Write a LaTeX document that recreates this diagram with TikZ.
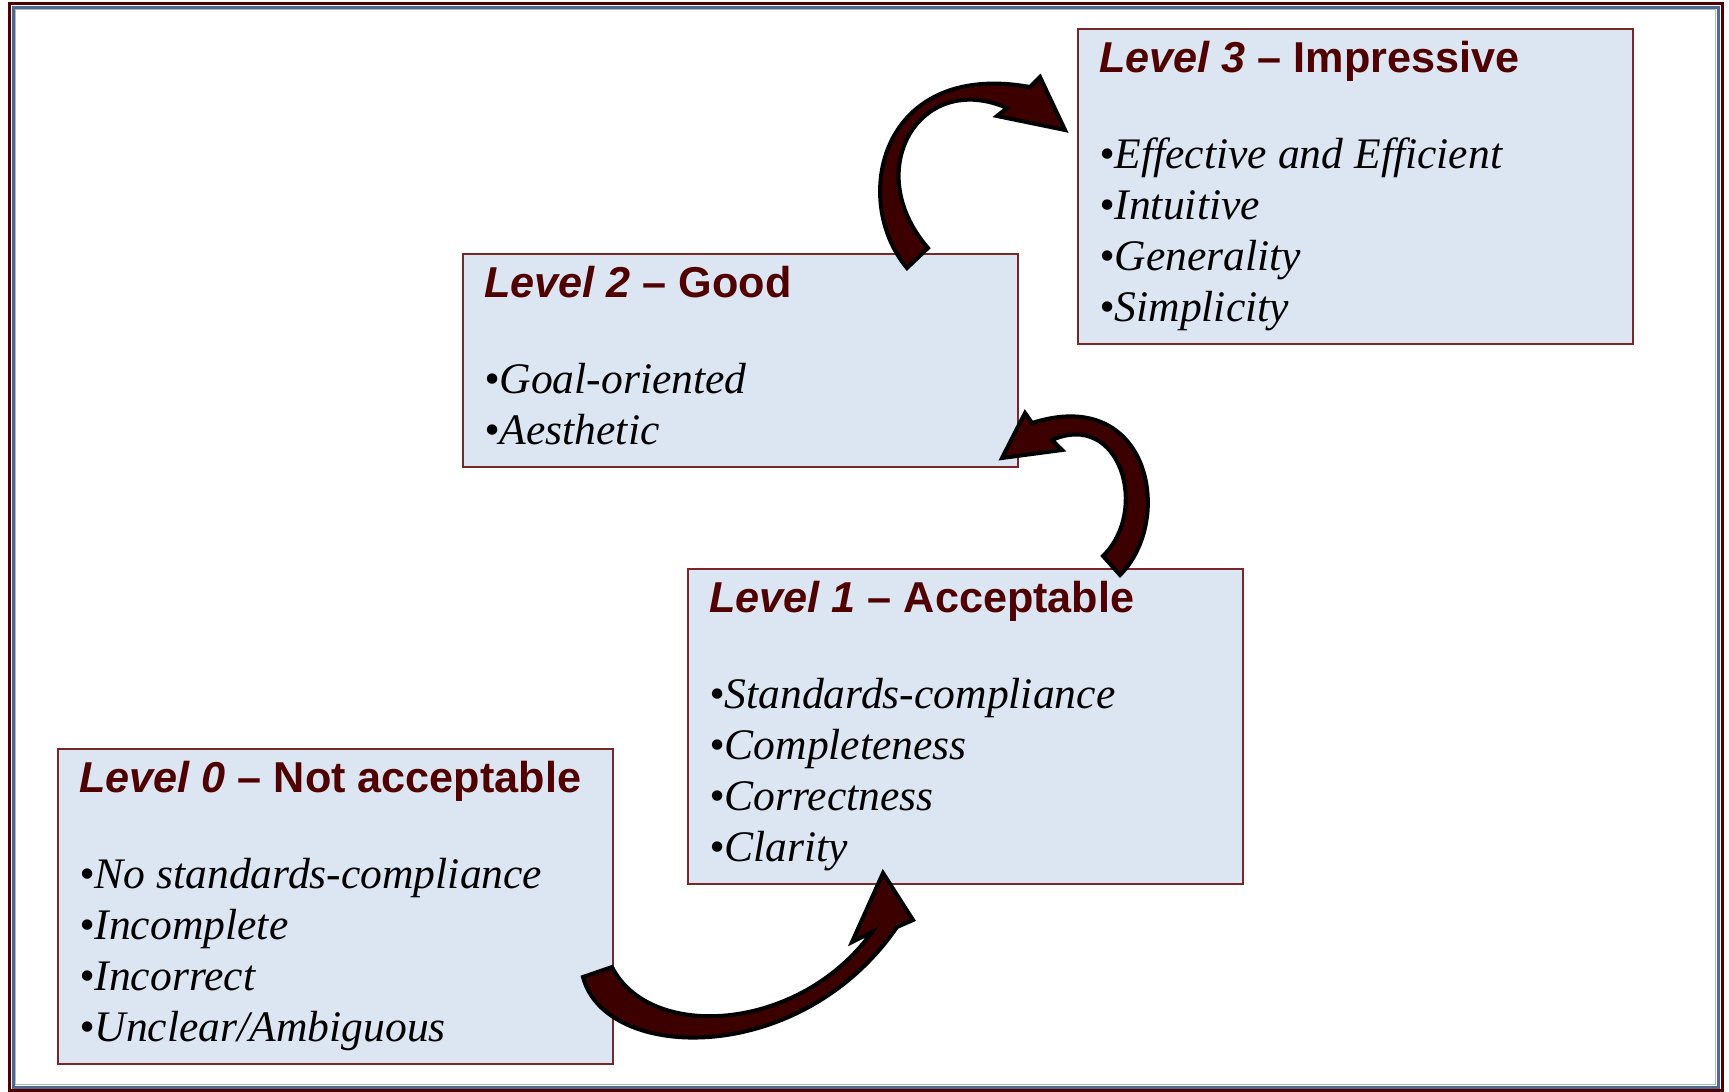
\documentclass[tikz,border=0pt]{standalone}
\usepackage{fontspec}
\setmainfont{Liberation Serif}
\newfontfamily\headfont{Liberation Sans}

\definecolor{boxfill}{RGB}{220,230,242}
\definecolor{boxline}{RGB}{120,40,40}
\definecolor{maroon}{RGB}{80,0,0}
\definecolor{arrowfill}{RGB}{60,0,0}
\definecolor{frameblue}{RGB}{80,105,145}
\definecolor{framelight}{RGB}{170,185,205}

\begin{document}
\begin{tikzpicture}[x=0.5pt,y=-0.5pt,
	levelbox/.style={draw=boxline, fill=boxfill, line width=0.75pt, minimum width=277.5pt, minimum height=157.5pt, anchor=north west, inner sep=0pt},
	heading/.style={anchor=base west, inner sep=0pt, text=maroon, font=\headfont\bfseries\fontsize{21.6}{25}\selectfont},
	items/.style={anchor=base west, inner sep=0pt, align=left, font=\itshape\fontsize{21.8}{25.5}\selectfont},
	bigarrow/.style={draw=black, line width=2pt, fill=arrowfill}]
	\useasboundingbox (0,0) rectangle (1729,1092);

	% page frame
	\draw[maroon, line width=1.5pt] (9,3) rectangle (1722,1090);
	\draw[frameblue, line width=1.5pt] (13,7) rectangle (1718,1087);
	\draw[framelight, line width=0.5pt] (15.5,9.5) rectangle (1715.5,1084.5);

	% levels (item nodes sit on the baseline of their last line)
	\node[levelbox] (l0) at (57,748) {};
	\node[heading] (h0) at (79,792) {{\itshape Level 0} – Not acceptable};
	\node[items] (b0) at (79,1041) {•No standards-compliance\\•Incomplete\\•Incorrect\\•Unclear/Ambiguous};

	\node[levelbox] (l1) at (687,568) {};
	\node[heading] (h1) at (709,612) {{\itshape Level 1} – Acceptable};
	\node[items] (b1) at (709,861) {•Standards-compliance\\•Completeness\\•Correctness\\•Clarity};

	\node[levelbox, minimum height=106.5pt] (l2) at (462,253) {};
	\node[heading] (h2) at (484,297) {{\itshape Level 2} – Good};
	\node[items] (b2) at (484,444) {•Goal-oriented\\•Aesthetic};

	\node[levelbox] (l3) at (1077,28) {};
	\node[heading] (h3) at (1099,72) {{\itshape Level 3} – Impressive};
	\node[items] (b3) at (1099,321) {•Effective and Efficient\\•Intuitive\\•Generality\\•Simplicity};

	% curved arrows
	\draw[bigarrow] (583,977) .. controls (605,1062) and (800,1068) .. (897,927) -- (913,920) -- (883,873) -- (852,942) -- (872,932) .. controls (800,1032) and (650,1042) .. (612,967) -- cycle;
	\draw[bigarrow] (1120,575) .. controls (1175,520) and (1150,385) .. (1032,423) -- (1025,413) -- (1002,458) -- (1062,450) -- (1052,440) .. controls (1120,410) and (1150,510) .. (1103,556) -- cycle;
	\draw[bigarrow] (907,268) .. controls (850,200) and (880,60) .. (1030,87) -- (1040,77) -- (1065,130) -- (997,116) -- (1007,108) .. controls (920,70) and (860,170) .. (928,248) -- cycle;
\end{tikzpicture}
\end{document}
